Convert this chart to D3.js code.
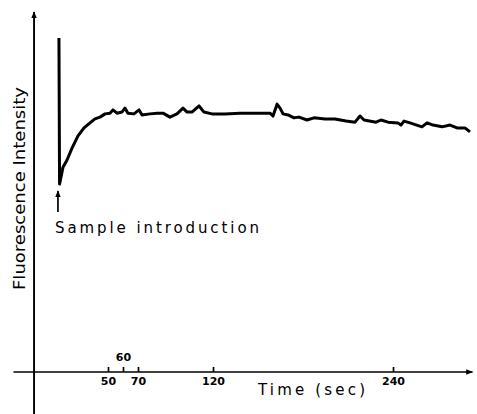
<!DOCTYPE html>
<html>
<head>
<meta charset="utf-8">
<script src="https://cdn.jsdelivr.net/npm/d3@7"></script>
<style>
  body { margin: 0; background: #fff; }
  text { font-family: "DejaVu Sans", sans-serif; fill: #000; }
</style>
</head>
<body>
<div id="chart"></div>
<script>
// time (sec) and fluorescence intensity (arbitrary units)
const timeSec = [17.3, 17.7, 20.0, 22.7, 26, 30, 34, 38, 41.3, 44.7, 48, 51.3, 53.3, 56, 59.3, 61.3, 63.3, 67.3, 70.7, 72.7,
  78, 82.7, 86.7, 91.3, 96, 100, 102.7, 106, 110.7, 114, 119.3, 128, 138, 148, 154.7, 158, 160, 162.7, 164.7, 166.7,
  170, 174, 177.3, 182.7, 187.3, 194.7, 201.3, 208.7, 214.7, 218, 220.7, 228.7, 232, 236.7, 243.3, 245.3, 247.3, 251.3,
  259.3, 262.7, 266.7, 272.7, 278, 282.7, 288, 291.3];
const intensity = [92.8, 52.2, 56.9, 58.9, 62.2, 65.6, 67.8, 69.2, 70.3, 70.8, 71.7, 71.9, 72.8, 71.9, 72.2, 73.3, 71.9, 71.7, 72.8, 71.4,
  71.7, 71.9, 71.9, 70.8, 71.7, 73.3, 72.2, 72.2, 73.9, 72.2, 71.7, 71.7, 71.9, 71.9, 71.9, 71.9, 71.1, 74.4, 73.3, 71.7,
  71.4, 70.6, 70.8, 70.0, 70.6, 70.3, 70.3, 69.7, 69.4, 71.1, 70.0, 69.4, 70.0, 69.4, 69.2, 68.6, 69.7, 69.2,
  68.1, 69.2, 68.6, 68.1, 68.6, 67.8, 67.8, 66.7];
const tickValues = [50, 60, 70, 120, 240];
const sampleTime = 17.3;

const width = 477, height = 414;

const svg = d3.select("#chart").append("svg")
  .attr("width", width)
  .attr("height", height);

const x = d3.scaleLinear().domain([0, 100]).range([33, 183]);
const y = d3.scaleLinear().domain([0, 100]).range([372, 12]);

const defs = svg.append("defs");
defs.append("marker")
  .attr("id", "arrow")
  .attr("viewBox", "0 0 10 10")
  .attr("refX", 9).attr("refY", 5)
  .attr("markerWidth", 7).attr("markerHeight", 7)
  .attr("markerUnits", "userSpaceOnUse")
  .attr("orient", "auto")
  .append("path")
  .attr("d", "M0,1 L10,5 L0,9 Z")
  .attr("fill", "#000");

// axes lines with arrows
svg.append("line")
  .attr("x1", x(-13)).attr("x2", x(293))
  .attr("y1", y(0)).attr("y2", y(0))
  .attr("stroke", "#000").attr("stroke-width", 1.7)
  .attr("marker-end", "url(#arrow)");

svg.append("line")
  .attr("x1", x(0.7)).attr("x2", x(0.7))
  .attr("y1", height).attr("y2", y(100))
  .attr("stroke", "#000").attr("stroke-width", 1.9)
  .attr("marker-end", "url(#arrow)");

// x ticks
const xAxis = svg.append("g")
  .attr("transform", `translate(0,${y(0)})`)
  .call(d3.axisBottom(x).tickValues(tickValues).tickSize(-5).tickSizeOuter(0));
xAxis.select(".domain").remove();
xAxis.selectAll(".tick line").attr("stroke", "#000").attr("stroke-width", 1.7);
xAxis.selectAll(".tick text")
  .attr("font-family", "DejaVu Sans, sans-serif")
  .attr("font-size", 11)
  .attr("font-weight", "bold")
  .attr("y", 5);
xAxis.selectAll(".tick text").filter(d => d === 60)
  .attr("y", -11).attr("dy", 0);

// trace
const data = timeSec.map((t, i) => ({ t: t, v: intensity[i] }));
const line = d3.line().x(d => x(d.t)).y(d => y(d.v));
svg.append("path")
  .datum(data)
  .attr("d", line)
  .attr("fill", "none")
  .attr("stroke", "#000")
  .attr("stroke-width", 3)
  .attr("stroke-linejoin", "round");

// sample introduction arrow
svg.append("line")
  .attr("x1", x(sampleTime) - 1).attr("x2", x(sampleTime) - 1)
  .attr("y1", 212).attr("y2", 191)
  .attr("stroke", "#000").attr("stroke-width", 1.7)
  .attr("marker-end", "url(#arrow)");

svg.append("text")
  .attr("x", 55).attr("y", 233)
  .attr("font-size", 15)
  .attr("textLength", 204)
  .attr("lengthAdjust", "spacing")
  .text("Sample introduction");

svg.append("text")
  .attr("x", 258).attr("y", 395)
  .attr("font-size", 15)
  .attr("textLength", 107)
  .attr("lengthAdjust", "spacing")
  .text("Time (sec)");

svg.append("text")
  .attr("transform", "translate(25,290) rotate(-90)")
  .attr("font-size", 16)
  .attr("textLength", 203)
  .attr("lengthAdjust", "spacingAndGlyphs")
  .text("Fluorescence Intensity");
</script>
</body>
</html>
